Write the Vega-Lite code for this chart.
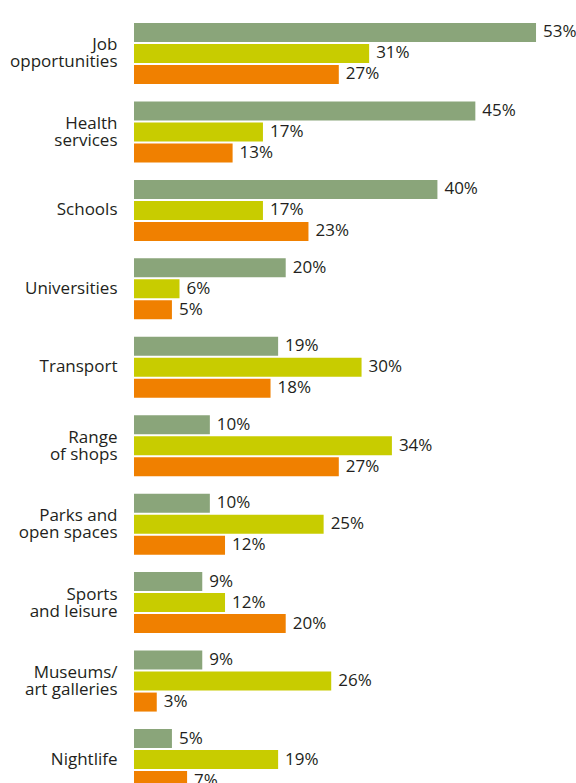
{
  "$schema": "https://vega.github.io/schema/vega-lite/v6.json",
  "autosize": {"type": "none"},
  "padding": {"left": 134, "top": 0, "right": 0, "bottom": 0},
  "width": 442,
  "height": 813,
  "background": "white",
  "config": {"view": {"stroke": null}},
  "data": {
    "values": [
      {"category": "Job opportunities", "series": "s1", "value": 0.53},
      {"category": "Job opportunities", "series": "s2", "value": 0.31},
      {"category": "Job opportunities", "series": "s3", "value": 0.27},
      {"category": "Health services", "series": "s1", "value": 0.45},
      {"category": "Health services", "series": "s2", "value": 0.17},
      {"category": "Health services", "series": "s3", "value": 0.13},
      {"category": "Schools", "series": "s1", "value": 0.40},
      {"category": "Schools", "series": "s2", "value": 0.17},
      {"category": "Schools", "series": "s3", "value": 0.23},
      {"category": "Universities", "series": "s1", "value": 0.20},
      {"category": "Universities", "series": "s2", "value": 0.06},
      {"category": "Universities", "series": "s3", "value": 0.05},
      {"category": "Transport", "series": "s1", "value": 0.19},
      {"category": "Transport", "series": "s2", "value": 0.30},
      {"category": "Transport", "series": "s3", "value": 0.18},
      {"category": "Range of shops", "series": "s1", "value": 0.10},
      {"category": "Range of shops", "series": "s2", "value": 0.34},
      {"category": "Range of shops", "series": "s3", "value": 0.27},
      {"category": "Parks and open spaces", "series": "s1", "value": 0.10},
      {"category": "Parks and open spaces", "series": "s2", "value": 0.25},
      {"category": "Parks and open spaces", "series": "s3", "value": 0.12},
      {"category": "Sports and leisure", "series": "s1", "value": 0.09},
      {"category": "Sports and leisure", "series": "s2", "value": 0.12},
      {"category": "Sports and leisure", "series": "s3", "value": 0.20},
      {"category": "Museums/art galleries", "series": "s1", "value": 0.09},
      {"category": "Museums/art galleries", "series": "s2", "value": 0.26},
      {"category": "Museums/art galleries", "series": "s3", "value": 0.03},
      {"category": "Nightlife", "series": "s1", "value": 0.05},
      {"category": "Nightlife", "series": "s2", "value": 0.19},
      {"category": "Nightlife", "series": "s3", "value": 0.07}
    ]
  },
  "encoding": {
    "y": {
      "field": "category",
      "type": "nominal",
      "sort": null,
      "scale": {"paddingInner": 0.2224, "paddingOuter": 0.293},
      "axis": {
        "title": null,
        "domain": false,
        "ticks": false,
        "grid": false,
        "labelPadding": 17,
        "labelFont": "Open Sans",
        "labelFontSize": 17,
        "labelColor": "#231f20",
        "labelLineHeight": 17,
        "labelLimit": 200,
        "labelOffset": {"condition": {"test": "datum.value != 'Schools' && datum.value != 'Universities' && datum.value != 'Transport' && datum.value != 'Nightlife'", "value": -8}, "value": 0},
        "labelExpr": "datum.value == 'Job opportunities' ? ['Job', 'opportunities'] : datum.value == 'Health services' ? ['Health', 'services'] : datum.value == 'Range of shops' ? ['Range', 'of shops'] : datum.value == 'Parks and open spaces' ? ['Parks and', 'open spaces'] : datum.value == 'Sports and leisure' ? ['Sports', 'and leisure'] : datum.value == 'Museums/art galleries' ? ['Museums/', 'art galleries'] : datum.value"
      }
    },
    "yOffset": {
      "field": "series",
      "type": "nominal",
      "scale": {"paddingInner": 0.095, "paddingOuter": 0}
    },
    "x": {
      "field": "value",
      "type": "quantitative",
      "scale": {"domain": [0, 0.5827], "nice": false},
      "axis": null
    }
  },
  "layer": [
    {
      "mark": {"type": "bar"},
      "encoding": {
        "color": {
          "field": "series",
          "type": "nominal",
          "scale": {"domain": ["s1", "s2", "s3"], "range": ["#8aa57a", "#c8cc00", "#f08000"]},
          "legend": null
        }
      }
    },
    {
      "mark": {"type": "text", "align": "left", "baseline": "middle", "dx": 7, "font": "Open Sans", "fontSize": 17, "color": "#231f20"},
      "encoding": {
        "text": {"field": "value", "type": "quantitative", "format": ".0%"}
      }
    }
  ]
}
